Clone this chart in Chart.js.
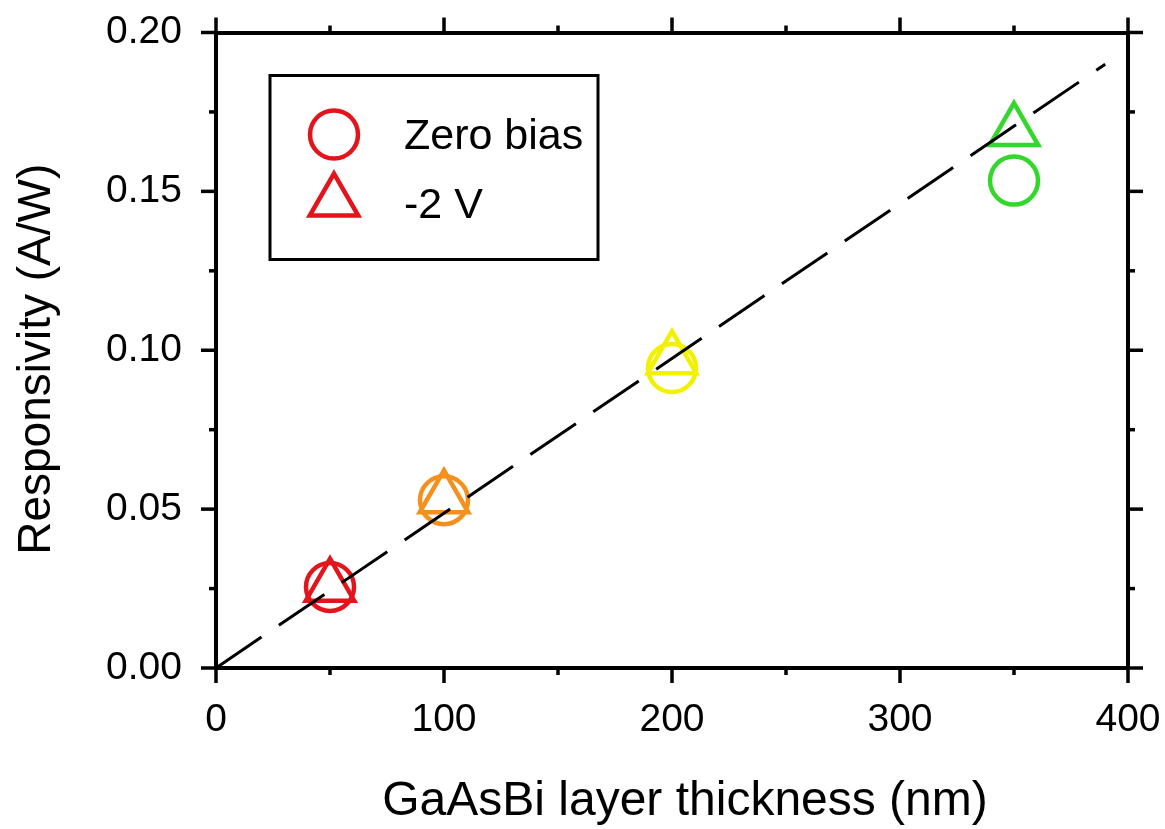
<!DOCTYPE html>
<html>
<head>
<meta charset="utf-8">
<script src="https://cdn.jsdelivr.net/npm/chart.js@4.4.1/dist/chart.umd.min.js"></script>
<style>
  html, body { margin: 0; padding: 0; background: #ffffff; }
  #wrap { width: 1165px; height: 829px; }
</style>
</head>
<body>
<div id="wrap"><canvas id="c" width="1165" height="829"></canvas></div>
<script>
// ---- data ----
const thickness = [50, 100, 200, 350];               // GaAsBi layer thickness (nm)
const zeroBias  = [0.0255, 0.0528, 0.0944, 0.1534];  // Responsivity (A/W), zero bias
const minus2V   = [0.0256, 0.0534, 0.0972, 0.169];   // Responsivity (A/W), -2 V
const fitX      = [0, 390];
const fitY      = [0, 0.19];
const seriesLabels = ['Zero bias', '-2 V'];

const xMajorTicks = [0, 100, 200, 300, 400];
const xTickLabels = ['0', '100', '200', '300', '400'];
const yMajorTicks = [0, 0.05, 0.10, 0.15, 0.20];
const yTickLabels = ['0.00', '0.05', '0.10', '0.15', '0.20'];
const xTitle = 'GaAsBi layer thickness (nm)';
const yTitle = 'Responsivity (A/W)';

// ---- styles ----
const pointColors = ['#e3141c', '#f4901e', '#f2f200', '#34d82c'];
const legendColor = '#e3141c';
const FONT = "'Liberation Sans', Arial, sans-serif";

function majorLabel(v, majors, labels) {
  for (let i = 0; i < majors.length; i++) {
    if (Math.abs(v - majors[i]) < 1e-9) return labels[i];
  }
  return '';
}

function fixBox(size, dim) {
  return s => {
    s[dim] = size;
    s.paddingTop = 0; s.paddingBottom = 0; s.paddingLeft = 0; s.paddingRight = 0;
  };
}

const minorTickPlugin = {
  id: 'ticksOut',
  afterDraw(chart) {
    const ctx = chart.ctx;
    const ca = chart.chartArea;
    ctx.save();
    ctx.strokeStyle = '#000';
    ctx.lineWidth = 3.5;
    ctx.lineCap = 'butt';
    Object.values(chart.scales).forEach(sc => {
      const majors = sc.axis === 'x' ? xMajorTicks : yMajorTicks;
      sc.ticks.forEach(t => {
        const isMajor = majors.some(m => Math.abs(m - t.value) < 1e-9);
        const len = isMajor ? 15 : 7;
        const p = sc.getPixelForValue(t.value);
        ctx.beginPath();
        if (sc.position === 'left') { ctx.moveTo(ca.left, p); ctx.lineTo(ca.left - len, p); }
        else if (sc.position === 'right') { ctx.moveTo(ca.right, p); ctx.lineTo(ca.right + len, p); }
        else if (sc.position === 'bottom') { ctx.moveTo(p, ca.bottom); ctx.lineTo(p, ca.bottom + len); }
        else if (sc.position === 'top') { ctx.moveTo(p, ca.top); ctx.lineTo(p, ca.top - len); }
        ctx.stroke();
      });
    });
    ctx.restore();
  }
};

const titlePlugin = {
  id: 'axisTitles',
  afterDraw(chart) {
    const ctx = chart.ctx;
    const ca = chart.chartArea;
    ctx.save();
    ctx.fillStyle = '#000';
    ctx.textAlign = 'center';
    ctx.textBaseline = 'middle';
    ctx.font = '48px ' + FONT;
    ctx.fillText(xTitle, (ca.left + ca.right) / 2 + 13, ca.bottom + 134);
    ctx.translate(37, (ca.top + ca.bottom) / 2 + 9);
    ctx.rotate(-Math.PI / 2);
    ctx.font = '46px ' + FONT;
    ctx.fillText(yTitle, 0, 0);
    ctx.restore();
  }
};

const legendPlugin = {
  id: 'boxLegend',
  afterDraw(chart) {
    const ctx = chart.ctx;
    const ca = chart.chartArea;
    const bx = ca.left + 54, by = ca.top + 43, bw = 328, bh = 184;
    ctx.save();
    ctx.lineWidth = 3;
    ctx.strokeStyle = '#000';
    ctx.strokeRect(bx, by, bw, bh);
    // circle symbol
    const sx = bx + 64;
    ctx.strokeStyle = legendColor;
    ctx.lineWidth = 4.5;
    ctx.beginPath();
    ctx.arc(sx, by + 59, 24, 0, Math.PI * 2);
    ctx.stroke();
    // triangle symbol
    const r = 28, ty = by + 126;
    ctx.beginPath();
    ctx.moveTo(sx, ty - r);
    ctx.lineTo(sx + Math.sin(2 * Math.PI / 3) * r, ty - Math.cos(2 * Math.PI / 3) * r);
    ctx.lineTo(sx + Math.sin(4 * Math.PI / 3) * r, ty - Math.cos(4 * Math.PI / 3) * r);
    ctx.closePath();
    ctx.stroke();
    // text
    ctx.fillStyle = '#000';
    ctx.font = '43px ' + FONT;
    ctx.textBaseline = 'alphabetic';
    ctx.textAlign = 'left';
    ctx.fillText(seriesLabels[0], bx + 134, by + 73);
    ctx.fillText(seriesLabels[1], bx + 134, by + 142);
    ctx.restore();
  }
};

const fitData = fitX.map((x, i) => ({ x: x, y: fitY[i] }));
const zbData = thickness.map((x, i) => ({ x: x, y: zeroBias[i] }));
const m2Data = thickness.map((x, i) => ({ x: x, y: minus2V[i] }));

const tickFont = { family: FONT, size: 39 };

new Chart(document.getElementById('c'), {
  type: 'scatter',
  data: {
    datasets: [
      {
        type: 'line',
        label: 'fit',
        data: fitData,
        borderColor: '#000',
        borderWidth: 3,
        borderDash: [55, 21],
        pointRadius: 0,
        fill: false,
        showLine: true,
        clip: false
      },
      {
        label: seriesLabels[1],
        data: m2Data,
        pointStyle: 'triangle',
        pointRadius: 28,
        pointBorderWidth: 4.5,
        pointBorderColor: pointColors,
        pointBackgroundColor: 'rgba(0,0,0,0)',
        clip: false
      },
      {
        label: seriesLabels[0],
        data: zbData,
        pointStyle: 'circle',
        pointRadius: 24,
        pointBorderWidth: 4.5,
        pointBorderColor: pointColors,
        pointBackgroundColor: 'rgba(0,0,0,0)',
        clip: false
      }
    ]
  },
  options: {
    responsive: false,
    animation: false,
    events: [],
    layout: { padding: 0 },
    plugins: { legend: { display: false }, tooltip: { enabled: false } },
    scales: {
      x: {
        type: 'linear', position: 'bottom', min: 0, max: 400,
        afterFit: fixBox(161, 'height'),
        grid: { display: false, drawTicks: false },
        border: { display: true, color: '#000', width: 4 },
        ticks: {
          stepSize: 50, padding: 29, color: '#000', font: tickFont, maxRotation: 0, autoSkip: false,
          callback: v => majorLabel(v, xMajorTicks, xTickLabels)
        }
      },
      x2: {
        type: 'linear', position: 'top', min: 0, max: 400, axis: 'x',
        afterFit: fixBox(28, 'height'),
        grid: { display: false, drawTicks: false },
        border: { display: true, color: '#000', width: 4 },
        ticks: { stepSize: 50, display: false, autoSkip: false }
      },
      y: {
        type: 'linear', position: 'left', min: 0, max: 0.2,
        afterFit: fixBox(216, 'width'),
        grid: { display: false, drawTicks: false },
        border: { display: true, color: '#000', width: 4 },
        ticks: {
          stepSize: 0.025, padding: 34, color: '#000', font: tickFont, autoSkip: false,
          callback: v => majorLabel(v, yMajorTicks, yTickLabels)
        }
      },
      y2: {
        type: 'linear', position: 'right', min: 0, max: 0.2, axis: 'y',
        afterFit: fixBox(37, 'width'),
        grid: { display: false, drawTicks: false },
        border: { display: true, color: '#000', width: 4 },
        ticks: { stepSize: 0.025, display: false, autoSkip: false }
      }
    }
  },
  plugins: [minorTickPlugin, titlePlugin, legendPlugin]
});
</script>
</body>
</html>
